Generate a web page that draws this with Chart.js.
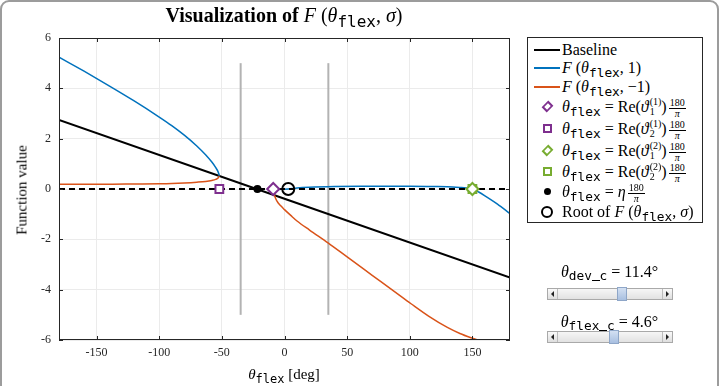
<!DOCTYPE html>
<html>
<head>
<meta charset="utf-8">
<script src="https://cdn.jsdelivr.net/npm/chart.js@4.4.0/dist/chart.umd.min.js"></script>
<style>
body{margin:0;width:721px;height:386px;overflow:hidden;background:#fff;position:relative;font-family:"Liberation Serif","DejaVu Serif",serif;color:#000}
#marco{position:absolute;left:0;top:0;width:715px;height:420px;border:2px solid #9c9c9c;border-radius:9px}
#graficapai{position:absolute;left:0;top:0}
.it{font-style:italic}
.tt{font-family:"DejaVu Sans Mono","Liberation Mono",monospace;font-size:0.8em;position:relative;top:0.3em}
#titulo{position:absolute;top:4px;left:0;width:568px;text-align:center;font-size:20px;white-space:nowrap}
#titulo b{font-weight:bold}
#ylab{position:absolute;left:22px;top:190px;transform:translate(-50%,-50%) rotate(-90deg);font-size:15px;white-space:nowrap}
#xlab{position:absolute;left:284px;top:374px;transform:translate(-50%,-50%);font-size:15px;white-space:nowrap}
#leyenda{position:absolute;left:527px;top:37px;width:174px;height:184px;border:1px solid #262626;background:#fff}
.fila{position:absolute;left:0;height:20px;line-height:20px;font-size:16px;white-space:nowrap}
.txt{position:absolute;left:34px;top:0}
.linea{position:absolute;left:6px;top:9px;width:26px;height:2px}
.mk{position:absolute;box-sizing:border-box}
.frac{display:inline-block;vertical-align:middle;text-align:center;font-size:10px;line-height:10px;margin-left:2px}
.frac span{display:block}
.frac .num{border-bottom:1px solid #000;padding:0 1px}
.ss{display:inline-block;vertical-align:middle;font-size:10px;line-height:10px;margin-left:1px;position:relative;top:-1px}
.ss span{display:block}
.etq{position:absolute;left:547px;width:125px;text-align:center;font-size:16px;line-height:22px;white-space:nowrap}
.etq .tt{top:0.25em}
.bajo{display:inline-block;width:0.6em;height:1px;background:#000;vertical-align:-1px}
.barra{position:absolute;left:547px;width:124px;height:10px;border:1px solid #a9a9a9;background:linear-gradient(#f6f6f6,#e2e2e2)}
.flecha{position:absolute;top:0;width:9px;height:10px;background:linear-gradient(#fafafa,#dedede)}
.flecha.l{left:0;border-right:1px solid #bcbcbc}
.flecha.r{right:0;border-left:1px solid #bcbcbc}
.flecha i{position:absolute;top:2px;width:0;height:0;border-top:3px solid transparent;border-bottom:3px solid transparent}
.flecha.l i{left:3px;border-right:3px solid #222}
.flecha.r i{left:3px;border-left:3px solid #222}
.cursor{position:absolute;top:-2px;width:10px;height:14px;box-sizing:border-box;border:1px solid #8ea6c8;background:linear-gradient(#d3e0f2,#a8bfe0)}
</style>
</head>
<body>
<div id="marco"></div>
<canvas id="graficapai" width="721" height="386"></canvas>

<div id="titulo"><b>Visualization of</b> <span class="it">F</span> (<span class="it">θ</span><span class="tt">flex</span>, <span class="it">σ</span>)</div>
<div id="ylab">Function value</div>
<div id="xlab"><span class="it">θ</span><span class="tt">flex</span> [deg]</div>

<div id="leyenda">
  <div class="fila" style="top:2px"><div class="linea" style="background:#000"></div><span class="txt">Baseline</span></div>
  <div class="fila" style="top:20px"><div class="linea" style="background:#0072bd;height:1.5px"></div><span class="txt"><span class="it">F</span> (<span class="it">θ</span><span class="tt">flex</span>, 1)</span></div>
  <div class="fila" style="top:39px"><div class="linea" style="background:#d95319;height:1.5px"></div><span class="txt"><span class="it">F</span> (<span class="it">θ</span><span class="tt">flex</span>, −1)</span></div>
  <div class="fila" style="top:59px"><div class="mk" style="left:15px;top:5px;width:9px;height:9px;border:2px solid #7e2f8e;transform:rotate(45deg) scale(0.8,1.05)"></div><span class="txt"><span class="it">θ</span><span class="tt">flex</span> = Re(<span class="it">ϑ</span><span class="ss"><span>(1)</span><span>1</span></span>)<span class="frac"><span class="num">180</span><span class="it">π</span></span></span></div>
  <div class="fila" style="top:81px"><div class="mk" style="left:15px;top:5px;width:9px;height:9px;border:2px solid #7e2f8e"></div><span class="txt"><span class="it">θ</span><span class="tt">flex</span> = Re(<span class="it">ϑ</span><span class="ss"><span>(1)</span><span>2</span></span>)<span class="frac"><span class="num">180</span><span class="it">π</span></span></span></div>
  <div class="fila" style="top:103px"><div class="mk" style="left:15px;top:5px;width:9px;height:9px;border:2px solid #77ac30;transform:rotate(45deg) scale(0.8,1.05)"></div><span class="txt"><span class="it">θ</span><span class="tt">flex</span> = Re(<span class="it">ϑ</span><span class="ss"><span>(2)</span><span>1</span></span>)<span class="frac"><span class="num">180</span><span class="it">π</span></span></span></div>
  <div class="fila" style="top:124px"><div class="mk" style="left:15px;top:5px;width:9px;height:9px;border:2px solid #77ac30"></div><span class="txt"><span class="it">θ</span><span class="tt">flex</span> = Re(<span class="it">ϑ</span><span class="ss"><span>(2)</span><span>2</span></span>)<span class="frac"><span class="num">180</span><span class="it">π</span></span></span></div>
  <div class="fila" style="top:144px"><div class="mk" style="left:16px;top:6px;width:7px;height:7px;border-radius:50%;background:#000"></div><span class="txt"><span class="it">θ</span><span class="tt">flex</span> = <span class="it">η</span><span class="frac"><span class="num">180</span><span class="it">π</span></span></span></div>
  <div class="fila" style="top:164px"><div class="mk" style="left:13px;top:4px;width:12px;height:12px;border-radius:50%;border:2px solid #000"></div><span class="txt">Root of <span class="it">F</span> (<span class="it">θ</span><span class="tt">flex</span>, <span class="it">σ</span>)</span></div>
</div>

<div class="etq" style="top:261px"><span class="it">θ</span><span class="tt">dev<span class="bajo"></span>c</span> = 11.4°</div>
<div class="barra" style="top:288px"><div class="flecha l"><i></i></div><div class="flecha r"><i></i></div><div class="cursor" style="left:69px"></div></div>
<div class="etq" style="top:311px"><span class="it">θ</span><span class="tt">flex<span class="bajo"></span>c</span> = 4.6°</div>
<div class="barra" style="top:331px"><div class="flecha l"><i></i></div><div class="flecha r"><i></i></div><div class="cursor" style="left:61px"></div></div>

<script>
// Datos
const ticksX = [-150, -100, -50, 0, 50, 100, 150];
const ticksY = [-6, -4, -2, 0, 2, 4, 6];

const baseX = [-180, 180];
const baseY = [2.74, -3.52];

const ceroX = [-180, 180];
const ceroY = [0, 0];

// F(theta_flex, 1)
const azulIzqX = [-180, -160, -140, -120, -100, -90, -80, -70, -63, -58, -55, -53, -52];
const azulIzqY = [5.24, 4.68, 4.10, 3.50, 2.86, 2.52, 2.14, 1.71, 1.36, 1.07, 0.86, 0.68, 0.53];
const azulDerX = [-9, -5, 0, 3, 10, 20, 40, 60, 80, 100, 120, 130, 140, 145, 150, 155, 160, 170, 180];
const azulDerY = [-0.04, -0.02, -0.01, 0, 0.04, 0.07, 0.1, 0.11, 0.11, 0.11, 0.1, 0.09, 0.06, 0.04, 0, -0.12, -0.27, -0.6, -0.98];

// F(theta_flex, -1)
const naranjaIzqX = [-180, -160, -140, -120, -100, -90, -80, -70, -63, -58, -55, -53, -52];
const naranjaIzqY = [0.19, 0.19, 0.19, 0.2, 0.21, 0.22, 0.24, 0.27, 0.3, 0.34, 0.38, 0.44, 0.53];
const naranjaDerX = [-9, -8, -6, -3, 0, 5, 10, 20, 35, 50, 70, 90, 101, 115, 130, 140, 150, 160];
const naranjaDerY = [0, -0.25, -0.48, -0.67, -0.82, -1.05, -1.27, -1.63, -2.15, -2.7, -3.43, -4.16, -4.56, -5.05, -5.5, -5.74, -5.93, -6.1];

// limites verticales
const limiteX = [-35, 35];
const limiteY = [-5, 5];

// marcadores
const vartheta11 = -9;
const vartheta21 = -52;
const vartheta12 = 150;
const vartheta22 = 150;
const eta = -21.6;
const raiz = 3;

function puntos(xs, ys) {
    return xs.map((x, i) => ({ x: x, y: ys[i] }));
}

function curva(xs, ys, color, ancho, orden) {
    return {
        data: puntos(xs, ys),
        showLine: true,
        borderColor: color,
        borderWidth: ancho,
        pointRadius: 0,
        fill: false,
        cubicInterpolationMode: 'monotone',
        order: orden
    };
}

function marcador(x, estilo, color, radio, relleno, orden) {
    return {
        data: [{ x: x, y: 0 }],
        showLine: false,
        pointStyle: estilo,
        pointRadius: radio,
        pointBorderColor: color,
        pointBackgroundColor: relleno,
        pointBorderWidth: 2,
        order: orden
    };
}

const datasets = [
    curva([limiteX[0], limiteX[0]], limiteY, '#b3b3b3', 2, 9),
    curva([limiteX[1], limiteX[1]], limiteY, '#b3b3b3', 2, 9),
    curva(baseX, baseY, '#000000', 2, 8),
    curva(azulIzqX, azulIzqY, '#0072bd', 1.5, 7),
    curva(azulDerX, azulDerY, '#0072bd', 1.5, 7),
    curva(naranjaIzqX, naranjaIzqY, '#d95319', 1.5, 7),
    curva(naranjaDerX, naranjaDerY, '#d95319', 1.5, 7),
    Object.assign(curva(ceroX, ceroY, '#000000', 2, 6), { borderDash: [6, 4] }),
    marcador(vartheta11, 'rectRot', '#7e2f8e', 6, '#ffffff', 2),
    marcador(vartheta21, 'rect', '#7e2f8e', 5.5, '#ffffff', 2),
    marcador(vartheta22, 'rect', '#77ac30', 5.5, '#ffffff', 2),
    marcador(vartheta12, 'rectRot', '#77ac30', 6, '#ffffff', 1),
    marcador(eta, 'circle', '#000000', 3, '#000000', 1),
    marcador(raiz, 'circle', '#000000', 6, 'rgba(255,255,255,0)', 1)
];

// caja de ejes con marcas hacia adentro
const cajaEjes = {
    id: 'cajaEjes',
    afterDatasetsDraw(chart) {
        const ctx = chart.ctx;
        const a = chart.chartArea;
        const sx = chart.scales.x, sy = chart.scales.y;
        ctx.save();
        ctx.strokeStyle = '#262626';
        ctx.lineWidth = 1;
        ctx.strokeRect(a.left + 0.5, a.top + 0.5, a.right - a.left - 1, a.bottom - a.top - 1);
        ctx.beginPath();
        ticksX.forEach(v => {
            const px = Math.round(sx.getPixelForValue(v)) + 0.5;
            ctx.moveTo(px, a.bottom); ctx.lineTo(px, a.bottom - 4);
            ctx.moveTo(px, a.top); ctx.lineTo(px, a.top + 4);
        });
        ticksY.forEach(v => {
            const py = Math.round(sy.getPixelForValue(v)) + 0.5;
            ctx.moveTo(a.left, py); ctx.lineTo(a.left + 4, py);
            ctx.moveTo(a.right, py); ctx.lineTo(a.right - 4, py);
        });
        ctx.stroke();
        ctx.restore();
    }
};

Chart.defaults.font.family = '"Liberation Serif", "DejaVu Serif", serif';

new Chart(document.querySelector('#graficapai'), {
    type: 'scatter',
    data: { datasets: datasets },
    options: {
        responsive: false,
        animation: false,
        layout: { padding: { left: 0, right: 211, top: 38, bottom: 0 } },
        plugins: { legend: { display: false }, tooltip: { enabled: false } },
        scales: {
            x: {
                type: 'linear', min: -180, max: 180,
                afterBuildTicks: s => { s.ticks = ticksX.map(v => ({ value: v })); },
                afterFit: s => { s.height = 46; },
                grid: { color: '#ebebeb', drawTicks: false },
                border: { display: false },
                ticks: { color: '#262626', font: { size: 12 }, padding: 6, maxRotation: 0, callback: v => String(v) }
            },
            y: {
                type: 'linear', min: -6, max: 6,
                afterBuildTicks: s => { s.ticks = ticksY.map(v => ({ value: v })); },
                afterFit: s => { s.width = 59; },
                grid: { color: '#ebebeb', drawTicks: false },
                border: { display: false },
                ticks: { color: '#262626', font: { size: 12 }, padding: 8, callback: v => String(v) }
            }
        }
    },
    plugins: [cajaEjes]
});
</script>
</body>
</html>
